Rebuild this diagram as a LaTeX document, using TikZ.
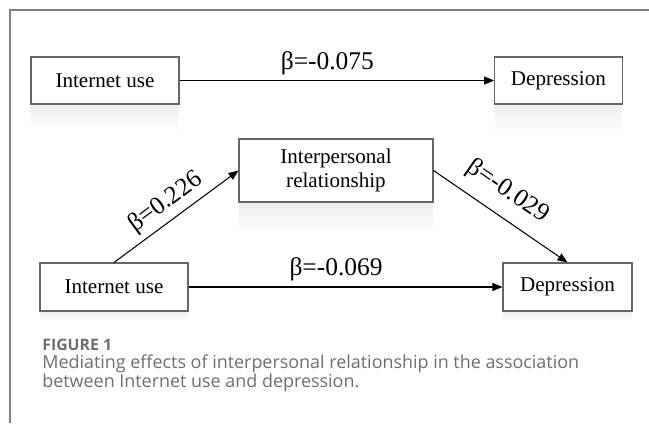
\documentclass[tikz,border=0pt]{standalone}
\usepackage{fontspec}
\setmainfont{Liberation Serif}
\newfontfamily\capfont{Open Sans}
\usepackage{xcolor}
\usetikzlibrary{arrows.meta,positioning}
\definecolor{capgray}{HTML}{6E6E6E}
\definecolor{framegray}{HTML}{808080}

\begin{document}
\begin{tikzpicture}[x=0.02cm, y=-0.02cm, font=\fontsize{12}{14}\selectfont,
  box/.style={draw=black!60, line width=0.6pt, fill=white, align=center, inner sep=2pt},
  arr/.style={-{Triangle[length=2mm,width=1.6mm]}, line width=0.6pt},
  coef/.style={font=\fontsize{14.5}{16}\selectfont, inner sep=3pt},
  refl/.style={top color=black!7, bottom color=white, draw=none},
  captxt/.style={font=\capfont\fontsize{10.2}{12}\selectfont, text=capgray, inner sep=0pt}]
  \useasboundingbox (0,0) rectangle (649,423);
  \draw[framegray, line width=0.6pt] (10,423) |- (649,10);
  % faint reflections under the boxes
  \fill[refl] (31,104) rectangle (179,132);
  \fill[refl] (495,104) rectangle (622,135);
  \fill[refl] (239,202) rectangle (433,236);
  \fill[refl] (40,311) rectangle (188,320);
  \fill[refl] (503,311) rectangle (632,320);
  % total effect
  \node[box, minimum width=2.96cm, minimum height=0.94cm] (use1) at (105,80.5) {Internet use};
  \node[box, minimum width=2.55cm, minimum height=0.94cm] (dep1) at (558.4,80.5) {Depression};
  \draw[arr] (use1) -- node[coef, above, pos=0.47] {β=-0.075} (dep1);
  % mediation model
  \node[box, minimum width=3.88cm, minimum height=1.26cm] (rel) at (336,170.5) {Interpersonal\\relationship};
  \node[box, minimum width=2.96cm, minimum height=0.96cm] (use2) at (114,287) {Internet use};
  \node[box, minimum width=2.58cm, minimum height=0.96cm] (dep2) at (567.5,287) {Depression};
  \draw[arr] (use2.north) -- node[coef, above, sloped] {β=0.226} (rel.west);
  \draw[arr] (rel.east) -- node[coef, above=4pt, sloped, pos=0.45] {β=-0.029} (dep2.north);
  \draw[arr] (use2) -- node[coef, above, pos=0.47] {β=-0.069} (dep2);
  % caption
  \node[captxt, anchor=base west, font=\capfont\bfseries\fontsize{9}{10}\selectfont] (fig) at (42,350) {FIGURE 1};
  \node[captxt, anchor=base west] (cap1) at (42,368) {Mediating effects of interpersonal relationship in the association};
  \node[captxt, anchor=base west] (cap2) at (42,387) {between Internet use and depression.};
\end{tikzpicture}
\end{document}
